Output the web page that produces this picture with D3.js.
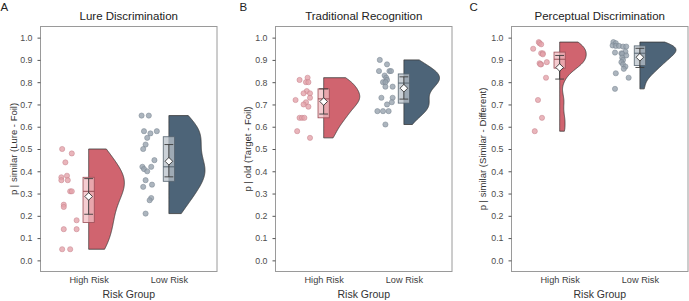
<!DOCTYPE html>
<html>
<head>
<meta charset="utf-8">
<script src="https://cdn.jsdelivr.net/npm/d3@7"></script>
<style>
  body { margin: 0; background: #fff; }
  svg { font-family: "Liberation Sans", Arial, sans-serif; }
</style>
</head>
<body>
<div id="container"></div>
<script>
/* DATA */
const groups = ["High Risk", "Low Risk"];
const panelLetters = ["A", "B", "C"];
const panelTitles = ["Lure Discrimination", "Traditional Recognition", "Perceptual Discrimination"];
const yTitles = ["p | similar (Lure - Foil)", "p | old (Target - Foil)", "p | similar (Similar - Different)"];
const xTitle = "Risk Group";
const yTicks = [0.0, 0.1, 0.2, 0.3, 0.4, 0.5, 0.6, 0.7, 0.8, 0.9, 1.0];

// participant scores, with the horizontal jitter (in category units)
const lureHigh = [0.50, 0.48, 0.44, 0.373, 0.36, 0.38, 0.36, 0.31, 0.31, 0.25, 0.24, 0.18, 0.14, 0.14, 0.05, 0.05];
const lureHighJitter = [-0.33, -0.21, -0.29, -0.34, -0.34, -0.27, -0.26, -0.23, -0.21, -0.31, -0.31, -0.15, -0.31, -0.15, -0.33, -0.23];
const lureLow = [0.65, 0.65, 0.58, 0.57, 0.58, 0.55, 0.52, 0.50, 0.45, 0.42, 0.41, 0.42, 0.40, 0.36, 0.34, 0.33, 0.28, 0.27, 0.21];
const lureLowJitter = [-0.34, -0.25, -0.31, -0.23, -0.15, -0.27, -0.29, -0.32, -0.18, -0.33, -0.31, -0.22, -0.27, -0.29, -0.21, -0.32, -0.22, -0.24, -0.29];

const tradHigh = [0.81, 0.82, 0.80, 0.80, 0.76, 0.75, 0.75, 0.73, 0.72, 0.71, 0.70, 0.69, 0.64, 0.64, 0.64, 0.58, 0.55];
const tradHighJitter = [-0.30, -0.20, -0.22, -0.19, -0.21, -0.25, -0.17, -0.17, -0.35, -0.22, -0.25, -0.19, -0.30, -0.27, -0.24, -0.33, -0.17];
const tradLow = [0.90, 0.88, 0.85, 0.85, 0.85, 0.83, 0.82, 0.81, 0.80, 0.80, 0.78, 0.78, 0.73, 0.73, 0.71, 0.70, 0.67, 0.67, 0.67, 0.61];
const tradLowJitter = [-0.30, -0.21, -0.31, -0.18, -0.16, -0.24, -0.22, -0.21, -0.26, -0.23, -0.14, -0.23, -0.28, -0.14, -0.15, -0.21, -0.33, -0.26, -0.19, -0.23];

const percHigh = [0.98, 0.975, 0.97, 0.95, 0.93, 0.93, 0.925, 0.89, 0.885, 0.88, 0.88, 0.82, 0.72, 0.64, 0.58];
const percHighJitter = [-0.26, -0.25, -0.23, -0.33, -0.23, -0.21, -0.21, -0.16, -0.25, -0.23, -0.24, -0.17, -0.27, -0.22, -0.31];
const percLow = [0.98, 0.975, 0.965, 0.963, 0.963, 0.96, 0.96, 0.937, 0.933, 0.93, 0.927, 0.92, 0.91, 0.90, 0.89, 0.88, 0.87, 0.86, 0.84, 0.82, 0.77];
const percLowJitter = [-0.33, -0.30, -0.34, -0.30, -0.26, -0.21, -0.17, -0.18, -0.31, -0.23, -0.22, -0.17, -0.22, -0.21, -0.23, -0.21, -0.18, -0.20, -0.30, -0.14, -0.31];

// summaries: [Q1, median, Q3, mean, CI low, CI high]
const lureHighStats = [0.17, 0.31, 0.373, 0.287, 0.207, 0.367];
const lureLowStats = [0.355, 0.42, 0.555, 0.445, 0.375, 0.52];
const tradHighStats = [0.64, 0.725, 0.77, 0.713, 0.657, 0.77];
const tradLowStats = [0.706, 0.796, 0.837, 0.773, 0.724, 0.824];
const percHighStats = [0.863, 0.903, 0.935, 0.866, 0.814, 0.92];
const percLowStats = [0.875, 0.93, 0.963, 0.912, 0.866, 0.952];

const panels = [
  { scores: [lureHigh, lureLow], jitter: [lureHighJitter, lureLowJitter], stats: [lureHighStats, lureLowStats] },
  { scores: [tradHigh, tradLow], jitter: [tradHighJitter, tradLowJitter], stats: [tradHighStats, tradLowStats] },
  { scores: [percHigh, percLow], jitter: [percHighJitter, percLowJitter], stats: [percHighStats, percLowStats] }
];

/* CONSTANTS */
const width = 689, height = 301;
const frameLeft = [40.5, 275.5, 511.5];
const frameW = 176.5, frameTop = 26.5, frameBottom = 271.5;
const letterX = [0.5, 239.5, 469.5];
const yTitleX = [16.5, 251, 486];

const violinFill = ["#d0646f", "#4d6478"];
const pointFill = ["#e3a2aa", "#97a3ae"];
const pointStroke = ["#c4808a", "#76838f"];
const boxFill = ["#f1bcc2", "#b9c2ca"];
const boxStroke = ["#9a4c55", "#55636f"];

const svg = d3.select("#container")
  .append("svg")
  .attr("width", width)
  .attr("height", height);

// gaussian kernel density, nrd0 bandwidth, trimmed to data range
function kde(values) {
  const sorted = values.slice().sort(d3.ascending);
  const n = values.length;
  const iqr = d3.quantile(sorted, 0.75) - d3.quantile(sorted, 0.25);
  const bw = 0.9 * Math.min(d3.deviation(values), iqr / 1.34) * Math.pow(n, -0.2);
  const [lo, hi] = d3.extent(values);
  return d3.range(0, 201).map(i => {
    const v = lo + (hi - lo) * i / 200;
    const d = d3.mean(values, s => Math.exp(-0.5 * ((v - s) / bw) ** 2)) / (bw * Math.sqrt(2 * Math.PI));
    return [v, d];
  });
}

const yScale = d3.scaleLinear()
  .domain([-0.05, 1.05])
  .range([frameBottom, frameTop]);

panels.forEach((p, pi) => {
  const left = frameLeft[pi];
  const g = svg.append("g");

  const xScale = d3.scalePoint()
    .domain(groups)
    .range([left, left + frameW])
    .padding(0.6);
  const step = xScale.step();

  // frame
  g.append("rect")
    .attr("x", left).attr("y", frameTop)
    .attr("width", frameW).attr("height", frameBottom - frameTop)
    .attr("fill", "none").attr("stroke", "#9a9a9a").attr("stroke-width", 1);

  // y axis
  const yAxis = d3.axisLeft(yScale)
    .tickValues(yTicks)
    .tickFormat(d3.format(".1f"))
    .tickSize(3)
    .tickPadding(5);
  const ya = g.append("g")
    .attr("transform", `translate(${left},0)`)
    .call(yAxis);
  ya.select(".domain").remove();
  ya.selectAll(".tick line").attr("stroke", "#555");
  ya.selectAll(".tick text").attr("fill", "#4d4d4d").style("font-size", "8.8px");

  // x axis
  const xAxis = d3.axisBottom(xScale).tickSize(0).tickPadding(4.5);
  const xa = g.append("g")
    .attr("transform", `translate(0,${frameBottom})`)
    .call(xAxis);
  xa.select(".domain").remove();
  xa.selectAll(".tick text").attr("fill", "#3d3d3d").style("font-size", "9.2px");

  // titles
  g.append("text")
    .attr("x", left + frameW / 2).attr("y", 20.3)
    .attr("text-anchor", "middle")
    .style("font-size", "11.5px").attr("fill", "#222")
    .text(panelTitles[pi]);
  g.append("text")
    .attr("x", letterX[pi]).attr("y", 10.5)
    .style("font-size", "11.5px").attr("fill", "#222")
    .text(panelLetters[pi]);
  g.append("text")
    .attr("transform", `translate(${yTitleX[pi]},${(frameTop + frameBottom) / 2}) rotate(-90)`)
    .attr("text-anchor", "middle")
    .style("font-size", "9.5px").attr("fill", "#333")
    .text(yTitles[pi]);
  g.append("text")
    .attr("x", left + frameW / 2).attr("y", 298.3)
    .attr("text-anchor", "middle")
    .style("font-size", "10.5px").attr("fill", "#333")
    .text(xTitle);

  // densities, scaled by area across the panel
  const dens = p.scores.map(kde);
  const maxD = d3.max(dens, ds => d3.max(ds, d => d[1]));

  groups.forEach((grp, gi) => {
    const cx = xScale(grp);
    const scores = p.scores[gi];
    const jit = p.jitter[gi];
    const [q1, med, q3, mean, ciLo, ciHi] = p.stats[gi];

    // raw points
    g.selectAll(null)
      .data(scores)
      .join("circle")
      .attr("cx", (d, i) => cx + jit[i] * step)
      .attr("cy", d => yScale(d))
      .attr("r", 2.6)
      .attr("fill", pointFill[gi])
      .attr("fill-opacity", 0.8)
      .attr("stroke", pointStroke[gi])
      .attr("stroke-width", 0.5);

    // half violin
    const area = d3.area()
      .y(d => yScale(d[0]))
      .x0(cx)
      .x1(d => cx + d[1] / maxD * 0.45 * step);
    g.append("path")
      .attr("d", area(dens[gi]))
      .attr("fill", violinFill[gi])
      .attr("stroke", "#3a3a3a")
      .attr("stroke-width", 0.8);

    // box
    const bw = 0.14 * step;
    g.append("rect")
      .attr("x", cx - bw / 2).attr("width", bw)
      .attr("y", yScale(q3)).attr("height", yScale(q1) - yScale(q3))
      .attr("fill", boxFill[gi]).attr("fill-opacity", 0.75)
      .attr("stroke", boxStroke[gi]).attr("stroke-width", 0.8);
    g.append("line")
      .attr("x1", cx - bw / 2).attr("x2", cx + bw / 2)
      .attr("y1", yScale(med)).attr("y2", yScale(med))
      .attr("stroke", boxStroke[gi]).attr("stroke-width", 1);

    // confidence interval
    const cw = 0.11 * step;
    const eb = g.append("g").attr("stroke", "#3b3b3b").attr("stroke-width", 0.9);
    eb.append("line")
      .attr("x1", cx).attr("x2", cx)
      .attr("y1", yScale(ciLo)).attr("y2", yScale(ciHi));
    [ciLo, ciHi].forEach(v => {
      eb.append("line")
        .attr("x1", cx - cw / 2).attr("x2", cx + cw / 2)
        .attr("y1", yScale(v)).attr("y2", yScale(v));
    });

    // mean
    const r = 3.8;
    g.append("path")
      .attr("transform", `translate(${cx},${yScale(mean)})`)
      .attr("d", `M0,${-r}L${r},0L0,${r}L${-r},0Z`)
      .attr("fill", "#fff")
      .attr("stroke", "#222")
      .attr("stroke-width", 0.8);
  });
});
</script>
</body>
</html>
